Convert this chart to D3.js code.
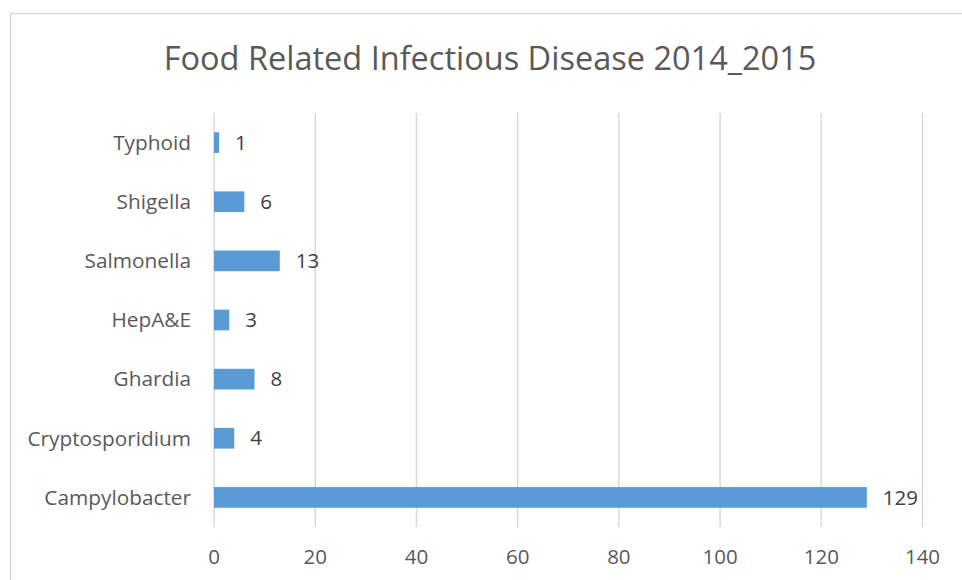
<html>
<head>
<meta charset="utf-8">
<title>Food Related Infectious Disease 2014_2015</title>
<style>
body { margin: 0; background: #fff; }
text { font-family: 'Open Sans', sans-serif; fill: #595959; }
</style>
</head>
<body>
<div id="chart"></div>
<script src="https://d3js.org/d3.v7.min.js"></script>
<script>

var categories = ["Typhoid", "Shigella", "Salmonella", "HepA&E", "Ghardia", "Cryptosporidium", "Campylobacter"];
var cases = [1, 6, 13, 3, 8, 4, 129];
var xTicks = [0, 20, 40, 60, 80, 100, 120, 140];

var width = 962, height = 580;
var margin = {top: 113, left: 214, right: 38, bottom: 53};

var svg = d3.select("#chart").append("svg")
  .attr("width", width)
  .attr("height", height);

// chart border
svg.append("rect")
  .attr("x", 10.5).attr("y", 13.5)
  .attr("width", 960).attr("height", 600)
  .attr("fill", "none")
  .attr("stroke", "#d9d9d9")
  .attr("stroke-width", 1.5);

svg.append("text")
  .attr("x", 490).attr("y", 70)
  .attr("text-anchor", "middle")
  .style("font-size", "32.5px")
  .text("Food Related Infectious Disease 2014_2015");

var x = d3.scaleLinear()
  .domain([0, 140])
  .range([margin.left, width - margin.right - 1.5]);

var y = d3.scaleBand()
  .domain(categories)
  .range([margin.top, height - margin.bottom])
  .paddingInner(0.65)
  .paddingOuter(0.325);

// gridlines
svg.append("g")
  .selectAll("line")
  .data(xTicks)
  .enter().append("line")
  .attr("x1", function(d) { return x(d); })
  .attr("x2", function(d) { return x(d); })
  .attr("y1", margin.top)
  .attr("y2", height - margin.bottom)
  .attr("stroke", "#d9d9d9")
  .attr("stroke-width", 1.5);

svg.append("g")
  .selectAll("rect")
  .data(categories)
  .enter().append("rect")
  .attr("x", x(0))
  .attr("y", function(d) { return y(d); })
  .attr("width", function(d, i) { return x(cases[i]) - x(0); })
  .attr("height", y.bandwidth())
  .attr("fill", "#5b9bd5");

// value labels
svg.append("g")
  .selectAll("text")
  .data(categories)
  .enter().append("text")
  .attr("x", function(d, i) { return x(cases[i]) + 16; })
  .attr("y", function(d) { return y(d) + y.bandwidth() / 2; })
  .attr("dy", "0.35em")
  .style("font-size", "20.5px")
  .style("fill", "#404040")
  .text(function(d, i) { return cases[i]; });

// category labels
svg.append("g")
  .selectAll("text")
  .data(categories)
  .enter().append("text")
  .attr("x", 191)
  .attr("y", function(d) { return y(d) + y.bandwidth() / 2; })
  .attr("dy", "0.35em")
  .attr("text-anchor", "end")
  .style("font-size", "20.8px")
  .text(function(d) { return d; });

// x tick labels
svg.append("g")
  .selectAll("text")
  .data(xTicks)
  .enter().append("text")
  .attr("x", function(d) { return x(d); })
  .attr("y", 557)
  .attr("dy", "0.35em")
  .attr("text-anchor", "middle")
  .style("font-size", "20.5px")
  .text(function(d) { return d; });

</script>
</body>
</html>
